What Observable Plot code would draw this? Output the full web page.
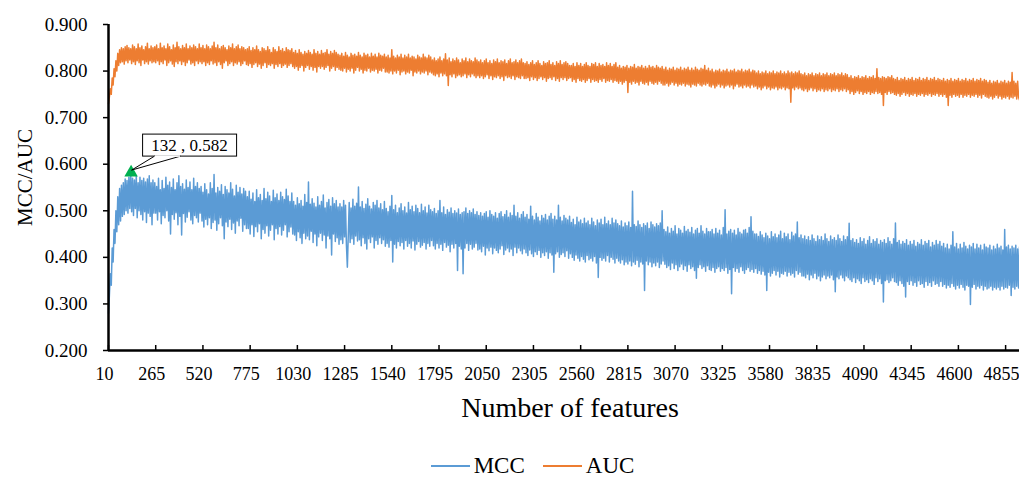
<!DOCTYPE html>
<html>
<head>
<meta charset="utf-8">
<script src="https://cdn.jsdelivr.net/npm/d3@7"></script>
<script src="https://cdn.jsdelivr.net/npm/@observablehq/plot@0.6"></script>
<style>
  html, body { margin: 0; padding: 0; background: #fff; }
  #chart { width: 1019px; height: 477px; position: relative; font-family: 'Liberation Serif', 'Times New Roman', serif; }
  #legend { display: flex; justify-content: center; align-items: center; height: 24px; margin-top: 4px; padding-left: 46px; font-size: 23px; color: #000; font-family: 'Liberation Serif', serif; }
  .item { display: flex; align-items: center; margin: 0 9px; }
  .swatch { width: 39px; height: 2.5px; margin-right: 4px; }
</style>
</head>
<body>
<div id="chart"></div>
<script>
// ---- data (values in thousandths) ----
const xStart = 10, xStep = 5;             // number of features: 10, 15, ..., 4930
const seriesNames = ["MCC", "AUC"];
const seriesColors = ["#5B9BD5", "#ED7D31"];
const xTicks = [10,265,520,775,1030,1285,1540,1795,2050,2305,2560,2815,3070,3325,3580,3835,4090,4345,4600,4855];
const yTicks = [0.2,0.3,0.4,0.5,0.6,0.7,0.8,0.9];
const peak = {x: 132, y: 0.582, label: "132 , 0.582"};

const mcc = [
280,320,365,340,420,390,460,430,500,455,530,470,548,478,555,488,560,492,568,500,565,495,572,505,582,498,570,490,566,505,575,485,560,500,572,492,565,480,570,498,562,475,568,495,575,488,560,470,566,495,
560,495,552,480,570,498,545,472,565,490,548,485,572,500,555,478,562,450,550,492,568,482,545,496,560,470,575,488,552,448,558,494,546,476,566,486,550,498,562,480,545,472,570,490,552,485,560,476,548,495,
552,478,540,465,558,482,545,470,536,485,560,462,548,475,578,480,538,458,550,472,542,485,556,468,535,440,552,476,545,466,538,482,560,460,546,474,532,452,555,478,540,468,550,484,536,456,548,470,542,462,
530,462,542,450,525,470,538,445,520,466,545,455,528,472,535,440,522,460,548,452,526,468,540,446,532,458,520,470,544,438,528,462,536,450,522,466,540,448,530,458,524,470,546,444,532,455,520,465,538,450,
520,448,512,436,528,455,515,442,522,430,510,452,535,440,518,446,562,438,514,456,526,432,516,450,508,425,530,444,512,452,520,436,534,448,506,420,518,446,524,440,510,405,528,450,515,434,522,442,508,428,
515,438,508,430,522,444,512,426,379,448,518,432,506,440,525,428,510,446,516,435,551,438,508,425,520,442,505,430,514,418,526,440,510,432,504,444,518,420,512,436,522,428,506,442,515,430,502,438,520,424,
505,430,498,422,510,436,533,390,502,428,512,420,496,434,506,425,515,432,500,418,508,436,495,424,518,430,502,420,510,435,498,416,512,428,505,434,496,422,514,426,500,432,508,418,495,430,512,424,502,436,
498,425,505,418,494,430,500,420,522,428,496,415,508,432,492,422,502,426,497,412,506,428,494,420,500,430,495,372,504,424,492,418,496,365,498,420,506,430,494,415,500,428,496,418,504,422,492,430,498,416,
490,418,496,412,488,424,494,405,498,420,486,414,500,422,492,408,488,420,496,415,484,410,494,418,498,425,487,406,492,416,500,420,486,412,495,418,490,404,512,422,488,410,496,420,484,414,492,408,498,418,
486,410,492,404,482,416,510,408,488,402,480,412,494,406,486,415,478,400,490,410,484,404,492,412,480,398,488,410,494,405,482,368,488,408,480,412,512,400,486,406,478,410,490,402,484,414,480,398,488,408,
475,400,482,394,470,405,486,398,476,392,480,402,472,396,484,390,474,404,478,395,470,398,484,392,476,402,468,388,480,357,474,400,482,394,470,398,486,392,472,404,478,390,470,400,484,396,474,388,480,398,
472,392,468,388,478,395,465,384,474,390,468,386,476,392,464,382,542,390,470,385,466,394,478,380,470,390,464,386,472,329,468,392,474,384,462,390,476,380,470,388,465,382,472,390,468,378,474,386,500,392,
460,385,455,378,465,382,452,374,462,388,456,376,468,384,450,372,462,380,458,386,452,374,466,382,456,370,460,384,454,376,464,380,450,372,458,355,462,378,452,384,468,376,456,380,450,370,462,382,455,374,
455,372,460,378,450,368,462,376,452,380,458,370,448,376,464,372,502,378,450,366,456,374,460,322,452,378,458,370,448,376,462,368,454,380,450,372,458,366,460,374,452,378,464,370,487,374,456,368,450,376,
450,366,445,372,455,364,448,370,442,362,452,329,446,368,440,360,455,366,444,372,450,362,442,370,448,358,456,366,440,364,452,370,444,360,450,368,438,362,454,366,446,358,450,372,476,364,442,368,448,360,
440,360,446,356,438,364,444,352,436,362,448,356,440,366,434,354,446,360,438,350,444,358,436,362,450,354,440,360,434,356,446,362,438,352,442,326,436,358,448,354,440,362,434,356,446,350,438,360,444,356,
473,352,436,348,440,356,432,346,438,354,430,350,442,344,434,356,440,348,428,352,436,346,444,354,430,350,438,342,434,356,440,348,428,354,436,344,432,304,438,350,430,352,442,346,434,350,428,356,440,348,
474,346,432,340,436,350,428,344,434,338,430,315,438,348,426,342,434,350,428,340,436,346,424,338,432,350,428,342,438,344,426,336,434,348,430,340,436,346,422,338,432,350,426,342,436,344,428,338,434,348,
424,338,430,342,420,334,428,340,418,336,426,344,455,338,422,332,430,340,418,334,428,342,420,336,432,330,424,340,418,338,426,299,422,336,430,342,418,332,428,338,420,334,426,340,416,330,428,338,422,332,
420,334,426,338,416,330,424,336,418,332,428,336,420,330,424,338,416,332,460,336,422,334,426,340,418,318,424,336,420,332,426,338,418,334,422
];

const auc = [
730,745,762,750,785,770,805,788,822,800,838,812,846,818,850,820,848,815,852,822,855,818,850,824,848,816,856,820,852,814,848,822,858,818,850,812,854,824,846,816,852,820,860,815,848,822,854,818,850,820,
852,818,856,822,848,814,860,820,850,816,854,824,848,812,858,818,852,822,846,815,856,810,850,820,862,816,852,822,848,814,855,820,850,812,858,818,848,824,854,815,850,818,856,812,852,822,848,816,858,820,
850,816,855,820,848,812,856,818,852,814,848,822,854,815,862,818,850,812,856,820,848,814,852,806,855,818,850,822,846,812,854,816,850,820,858,812,848,818,852,815,856,820,848,812,852,816,850,822,846,814,
848,812,852,816,844,808,850,814,846,818,854,810,846,815,842,806,850,812,848,818,844,808,852,814,846,812,840,816,850,806,846,814,842,810,852,816,844,808,848,812,842,815,850,808,846,812,844,816,848,810,
840,806,844,810,838,802,846,808,840,812,836,800,842,808,838,812,844,804,840,810,836,802,846,808,838,798,842,810,836,806,844,810,838,804,840,808,846,812,836,800,842,806,838,810,844,802,840,808,836,804,
834,802,838,800,832,806,840,798,834,804,830,800,838,806,834,796,836,802,832,808,840,800,834,804,830,796,838,802,834,800,836,806,830,798,838,802,832,800,836,804,830,796,838,802,834,800,832,806,836,798,
830,798,834,796,828,800,846,794,832,800,828,796,834,802,830,792,836,798,828,800,834,794,830,798,836,796,828,802,832,790,830,798,826,796,834,800,830,794,828,798,836,796,830,800,828,792,834,798,830,796,
824,792,828,790,822,794,826,788,830,796,822,790,826,794,837,790,824,769,828,792,820,788,826,794,822,786,828,790,824,792,818,788,826,790,822,794,828,786,820,792,826,788,822,794,820,790,828,786,824,790,
820,786,824,790,818,784,822,788,826,792,818,784,822,790,816,782,824,788,820,786,826,790,818,784,822,788,820,780,824,790,816,786,822,788,826,784,818,790,820,782,824,788,818,786,822,784,826,790,818,784,
816,784,820,786,814,780,818,788,822,782,814,786,818,780,822,784,816,788,812,782,820,786,816,778,818,784,822,786,814,782,818,788,812,780,820,784,816,778,822,786,814,782,818,786,820,780,816,784,812,786,
812,778,816,782,810,776,818,784,812,780,816,778,810,782,814,776,818,780,812,784,810,776,816,782,814,778,818,780,810,776,816,782,812,778,814,784,810,776,818,780,812,778,816,782,810,776,814,780,818,778,
808,774,812,778,806,772,810,776,808,780,812,754,806,776,810,772,808,778,814,774,806,776,810,770,808,778,812,774,806,772,810,776,806,770,812,778,808,774,810,772,806,776,812,772,808,778,806,774,810,770,
804,770,808,774,802,768,806,772,804,776,808,770,802,774,806,768,804,772,808,770,802,774,806,768,804,772,808,770,802,766,806,772,802,770,808,768,804,774,802,770,806,768,804,772,812,770,802,774,806,768,
800,766,804,770,798,764,802,768,800,772,804,766,798,770,802,764,800,768,804,770,798,766,802,770,800,762,804,768,798,772,802,766,800,768,804,764,798,770,802,766,800,768,804,764,798,770,802,766,800,768,
796,762,800,766,794,760,798,764,796,768,800,762,794,766,798,760,796,764,800,762,794,766,798,760,796,764,800,762,794,766,798,760,794,764,800,762,796,733,798,764,794,760,798,766,796,762,800,764,794,760,
792,758,796,762,790,756,794,760,792,764,796,758,790,762,794,756,792,760,796,758,790,762,794,756,792,760,796,758,790,762,794,756,792,760,796,758,790,762,794,756,792,760,796,758,790,762,794,756,792,760,
786,752,790,756,784,750,788,754,786,758,790,752,784,756,788,750,786,754,790,752,784,756,788,750,786,754,790,752,784,756,805,752,786,754,784,750,788,726,786,754,784,750,788,756,786,752,790,754,784,750,
782,748,786,752,780,746,784,750,782,754,786,748,780,752,784,746,782,750,786,748,780,752,784,746,782,750,786,748,780,752,784,746,782,750,786,748,780,752,784,746,782,750,786,748,780,752,784,746,782,750,
780,746,784,750,778,744,782,726,780,748,784,744,778,750,782,746,780,748,784,744,778,750,782,744,780,748,784,746,778,750,782,744,780,748,784,746,778,750,782,744,780,748,784,742,778,750,782,746,780,744,
776,742,780,746,774,740,778,744,776,748,780,742,774,746,778,740,776,744,780,742,774,746,778,740,776,744,797,742,778,746,774,740,778,744,738
];

// ---- build table ----
const rows = [];
[mcc, auc].forEach((vals, s) => {
  vals.forEach((v, i) => rows.push({series: seriesNames[s], x: xStart + i * xStep, y: v / 1000}));
});
const xMax = xStart + (mcc.length - 1) * xStep;

const font = "'Liberation Serif', 'Times New Roman', serif";
const fmtY = d3.format(".3f");

const plot = Plot.plot({
  width: 1019,
  height: 450,
  marginTop: 24,
  marginBottom: 100,
  marginLeft: 108,
  marginRight: 0,
  style: {fontFamily: font, fontSize: "19px", color: "#000", background: "#fff", overflow: "visible"},
  x: {domain: [xStart, xMax]},
  y: {domain: [0.2, 0.9]},
  color: {domain: seriesNames, range: seriesColors},
  marks: [
    Plot.axisY({ticks: yTicks, tickSize: 5, text: null, label: null, strokeWidth: 1.5}),
    Plot.axisX({ticks: xTicks, tickSize: -5, text: null, label: null, strokeWidth: 1.5}),
    Plot.text(yTicks, {y: d => d, text: d => fmtY(d), frameAnchor: "left", textAnchor: "end", lineAnchor: "middle", dx: -21, fontSize: 19, fontFamily: font, fill: "#000"}),
    Plot.text(xTicks, {x: d => d, text: d => String(d), frameAnchor: "bottom", textAnchor: "middle", lineAnchor: "middle", dy: 24, dx: -4, fontSize: 18, fontFamily: font, fill: "#000"}),
    Plot.lineY(rows, {x: "x", y: "y", z: "series", stroke: "series", strokeWidth: 1.5}),
    Plot.ruleX([xStart], {stroke: "#000", strokeWidth: 2.5}),
    Plot.ruleY([0.2], {stroke: "#000", strokeWidth: 2.5}),
    Plot.dot([peak], {x: "x", y: "y", symbol: "triangle", fill: "#00B050", r: 5}),
    Plot.text(["Number of features"], {frameAnchor: "bottom", lineAnchor: "middle", dy: 58, dx: 6, fontSize: 28, fontFamily: font, fill: "#000"}),
    Plot.text(["MCC/AUC"], {frameAnchor: "left", textAnchor: "middle", rotate: -90, dx: -83, dy: -10, fontSize: 21, fontFamily: font, fill: "#000"})
  ]
});

// callout annotation, positioned through the plot's scales
const sx = plot.scale("x"), sy = plot.scale("y");
const px = sx.apply(peak.x), py = sy.apply(peak.y);
const svg = d3.select(plot);
const g = svg.append("g");
g.append("rect").attr("x", px + 12).attr("y", py - 38).attr("width", 94).attr("height", 22)
  .attr("fill", "#fff").attr("stroke", "#000").attr("stroke-width", 1);
g.append("path").attr("d", `M${px + 24},${py - 16}L${px + 1},${py - 2}L${px + 50},${py - 16}`)
  .attr("fill", "#fff").attr("stroke", "#000").attr("stroke-width", 1);
g.append("line").attr("x1", px + 24.5).attr("x2", px + 49.5).attr("y1", py - 16).attr("y2", py - 16)
  .attr("stroke", "#fff").attr("stroke-width", 1.5);
g.append("text").attr("x", px + 59).attr("y", py - 27).attr("text-anchor", "middle").attr("dominant-baseline", "central")
  .attr("font-family", font).attr("font-size", 17).text(peak.label);

document.getElementById("chart").appendChild(plot);

// legend below the svg
const legend = document.createElement("div");
legend.id = "legend";
seriesNames.forEach((n, i) => {
  const it = document.createElement("div");
  it.className = "item";
  const sw = document.createElement("div");
  sw.className = "swatch";
  sw.style.background = seriesColors[i];
  const t = document.createElement("span");
  t.textContent = n;
  it.appendChild(sw); it.appendChild(t);
  legend.appendChild(it);
});
document.getElementById("chart").appendChild(legend);
</script>
</body>
</html>
